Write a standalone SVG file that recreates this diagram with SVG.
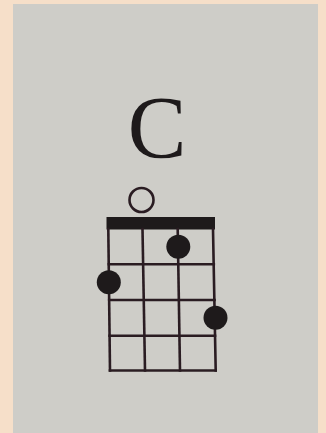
<svg xmlns="http://www.w3.org/2000/svg" width="326" height="433" viewBox="0 0 326 433">
<style>
.ln{stroke:#2a1c22;stroke-width:2.6;fill:none;stroke-linecap:square}
.dot{fill:#1e1a1b}
</style>
<rect x="0" y="0" width="326" height="433" fill="#f6dfc9"/>
<rect x="13" y="4" width="305" height="429" fill="#cecdc8"/>
<g id="title"><text x="157" y="157" font-family="Liberation Serif, serif" font-size="88" fill="#1e1a1b" text-anchor="middle">C</text></g>
<g id="nut"><rect x="106.5" y="217" width="108.5" height="12.5" fill="#1e1a1b"/></g>
<g id="grid">
<line class="ln" x1="108.3" y1="229" x2="110" y2="370.5"/>
<line class="ln" x1="142.5" y1="229" x2="145" y2="370.5"/>
<line class="ln" x1="177.7" y1="229" x2="180" y2="370.5"/>
<line class="ln" x1="213" y1="229" x2="215.7" y2="370.5"/>
<line class="ln" x1="108.8" y1="264.3" x2="213.8" y2="264.3"/>
<line class="ln" x1="109.2" y1="300" x2="214.5" y2="300"/>
<line class="ln" x1="109.6" y1="335.8" x2="215" y2="335.8"/>
<line class="ln" x1="110" y1="370.5" x2="215.7" y2="370.5"/>
</g>
<g id="open"><circle cx="141.5" cy="200" r="12" fill="none" stroke="#2a1c22" stroke-width="2.6"/></g>
<g id="dot1"><circle class="dot" cx="178.3" cy="246.7" r="12"/></g>
<g id="dot2"><circle class="dot" cx="108.8" cy="282.3" r="12"/></g>
<g id="dot3"><circle class="dot" cx="215.5" cy="317.8" r="12"/></g>
</svg>
